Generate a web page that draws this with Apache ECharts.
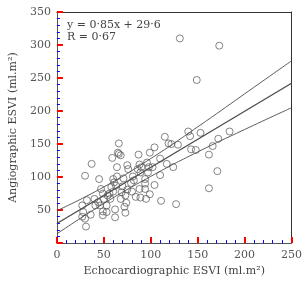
<!DOCTYPE html>
<html>
<head>
<meta charset="utf-8">
<script src="https://cdn.jsdelivr.net/npm/echarts@6/dist/echarts.min.js"></script>
<style>
  html, body { margin: 0; padding: 0; background: #fff; }
  #chart { width: 305px; height: 282px; }
</style>
</head>
<body>
<div id="chart"></div>
<script>
// echo ESVI (x) vs angio ESVI (y)
const echoX = [131, 173, 149, 162, 171, 127, 111, 184, 172, 166, 162, 153, 140, 142, 143, 148, 129, 115, 119, 122,
  117, 124, 110, 110, 104, 104, 99, 98, 102, 96, 94, 94, 94, 95, 99, 87, 88, 86, 89, 88,
  89, 84, 81, 79, 75, 76, 74, 72, 73, 71, 70, 69, 68, 68, 66, 65, 66, 64, 64, 63,
  61, 59, 60, 58, 57, 62, 62, 53, 54, 53, 50, 49, 49, 49, 46, 47, 45, 44, 41, 40,
  36, 37, 32, 30, 27, 28, 27, 30, 31, 56, 60, 73, 75, 80, 82, 97, 90];
const angioY = [310, 299, 247, 83, 109, 59, 64, 169, 158, 147, 134, 167, 169, 162, 142, 141, 149, 161, 151, 150,
  120, 115, 128, 103, 88, 145, 137, 115, 115, 122, 97, 90, 82, 67, 74, 134, 119, 112, 107, 82,
  69, 70, 101, 91, 118, 112, 61, 55, 46, 98, 86, 77, 67, 133, 151, 137, 135, 115, 101, 87,
  92, 129, 97, 85, 67, 51, 39, 47, 72, 57, 67, 75, 48, 42, 57, 82, 97, 62, 57, 67,
  43, 120, 65, 102, 57, 47, 40, 37, 25, 75, 78, 72, 81, 78, 95, 107, 115];

// regression line y = 0.85x + 29.6 and its confidence band
const lineX = [0, 250];
const lineY = [29.6, 242.1];
const bandX = [0, 50, 100, 150, 200, 250];
const bandUpper = [49, 85, 128, 176, 226, 276];
const bandLower = [14, 60, 101, 138, 172, 205];

const chart = echarts.init(document.getElementById('chart'));
const serif = 'DejaVu Serif';
const ink = '#4a4a4a';
const axisInk = '#333';

const zip = (a, b) => a.map((v, i) => [v, b[i]]);

const lineSeries = (data, width, smooth) => ({
  type: 'line',
  data,
  symbol: 'none',
  smooth,
  silent: true,
  lineStyle: { color: ink, width },
  z: 3,
});

// plain frame line for the top and right side
const frame = (position, min, max) => ({
  type: 'value',
  position,
  min,
  max,
  axisLine: { show: true, onZero: false, lineStyle: { color: axisInk } },
  axisTick: { show: false },
  axisLabel: { show: false },
  splitLine: { show: false },
});

chart.setOption({
  animation: false,
  grid: { left: 52, right: 11, top: 12, bottom: 37 },
  xAxis: [
    {
      type: 'value',
      min: 0,
      max: 250,
      interval: 50,
      name: 'Echocardiographic ESVI (ml.m²)',
      nameLocation: 'middle',
      nameGap: 22,
      nameTextStyle: { fontFamily: serif, fontSize: 11, color: '#444' },
      axisLine: { show: true, onZero: false },
      axisTick: { show: true, inside: true, length: 6, lineStyle: { color: 'red', width: 2 } },
      minorTick: { show: true, splitNumber: 5, length: 3, lineStyle: { color: 'blue' } },
      splitLine: { show: false },
      axisLabel: { fontFamily: serif, fontSize: 11, color: '#555', margin: 7 },
    },
    frame('top', 0, 250),
  ],
  yAxis: [
    {
      type: 'value',
      min: 0,
      max: 350,
      interval: 50,
      name: 'Angiographic ESVI (ml.m²)',
      nameLocation: 'middle',
      nameGap: 36,
      nameTextStyle: { fontFamily: serif, fontSize: 11, color: '#444' },
      axisLine: { show: true, onZero: false },
      axisTick: { show: true, inside: true, length: 6, lineStyle: { color: 'red', width: 2 } },
      minorTick: { show: true, splitNumber: 5, length: 3, lineStyle: { color: 'blue' } },
      splitLine: { show: false },
      axisLabel: { fontFamily: serif, fontSize: 11, color: '#555', margin: 6, showMinLabel: false },
    },
    frame('right', 0, 350),
  ],
  graphic: [
    {
      type: 'text',
      left: 67,
      top: 19,
      style: {
        text: 'y = 0·85x + 29·6\nR = 0·67',
        font: '11px "DejaVu Serif"',
        fill: '#444',
        lineHeight: 12,
      },
    },
  ],
  series: [
    {
      type: 'scatter',
      data: zip(echoX, angioY),
      symbol: 'circle',
      symbolSize: 7,
      itemStyle: { color: 'rgba(0,0,0,0)', borderColor: '#555', borderWidth: 0.9 },
      z: 4,
    },
    lineSeries(zip(lineX, lineY), 1.3, false),
    lineSeries(zip(bandX, bandUpper), 0.9, true),
    lineSeries(zip(bandX, bandLower), 0.9, true),
  ],
});
</script>
</body>
</html>
